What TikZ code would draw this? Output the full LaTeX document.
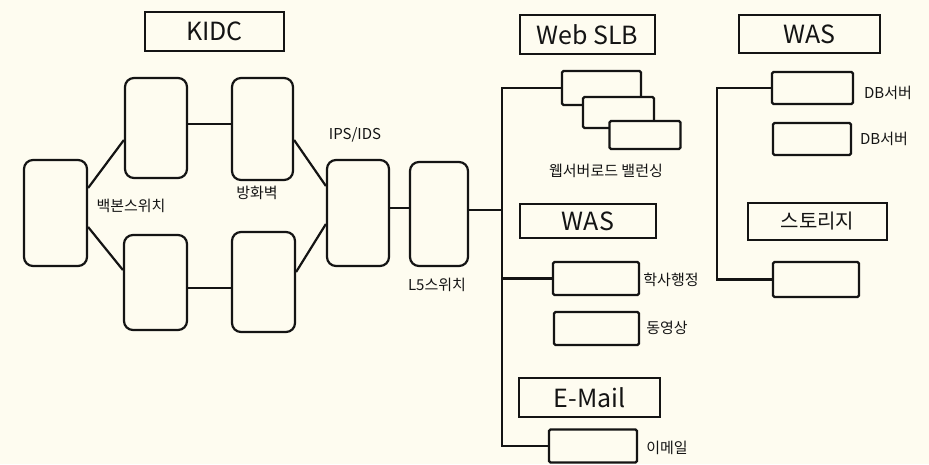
\documentclass[tikz,border=0pt]{standalone}
\usepackage{fontspec}
\setmainfont{Noto Sans CJK KR}
\definecolor{paper}{RGB}{254,252,240}
\definecolor{ink}{RGB}{20,20,20}
\begin{document}
\begin{tikzpicture}[x=1pt,y=-1pt,
  line width=2.2pt, draw=ink,
  dev/.style={draw=ink,fill=paper,rounded corners=9pt,inner sep=0pt},
  srv/.style={draw=ink,fill=paper,rounded corners=1.5pt,inner sep=0pt},
  title/.style={draw=ink,fill=paper,inner sep=0pt,font=\fontsize{25}{27}\selectfont,text=ink},
  lbl/.style={inner sep=0pt,font=\fontsize{15}{17}\selectfont,text=ink},
  conn/.style={draw=ink,line width=2.2pt}]
\fill[paper] (0,0) rectangle (929,464);
\useasboundingbox (0,0) rectangle (929,464);

% titles
\node[title,minimum width=139pt,minimum height=39pt] (kidc) at (214.5,31.5) {KIDC};
\node[title,minimum width=135pt,minimum height=39pt] (webslb) at (587.5,34.5) {Web SLB};
\node[title,minimum width=141pt,minimum height=38pt] (was1) at (809.5,34) {WAS};
\node[title,minimum width=136pt,minimum height=34pt] (was2) at (588,221) {WAS};
\node[title,minimum width=141pt,minimum height=39pt] (email) at (589.5,397.5) {E-Mail};
\node[title,minimum width=139pt,minimum height=37pt,font=\fontsize{20}{22}\selectfont] (stotitle) at (817.5,221.5) {스토리지};

% network devices
\node[dev,minimum width=63pt,minimum height=106pt] (bb) at (55.5,213) {};
\node[dev,minimum width=62pt,minimum height=100pt] (tl) at (156,128) {};
\node[dev,minimum width=61pt,minimum height=102pt] (tr) at (262.5,129) {};
\node[dev,minimum width=63pt,minimum height=95pt] (bl) at (155.5,282.5) {};
\node[dev,minimum width=63pt,minimum height=100pt] (br) at (263.5,282) {};
\node[dev,minimum width=62pt,minimum height=106pt] (ips) at (358,213) {};
\node[dev,minimum width=58pt,minimum height=104pt] (l5) at (439,214) {};

% servers
\node[srv,minimum width=79pt,minimum height=34pt] (s1) at (601.5,88) {};
\node[srv,minimum width=71pt,minimum height=31pt] (s2) at (618.5,112.5) {};
\node[srv,minimum width=71pt,minimum height=28pt] (s3) at (645,135) {};
\node[srv,minimum width=86pt,minimum height=33pt] (hak) at (596,278.5) {};
\node[srv,minimum width=85pt,minimum height=33pt] (dong) at (596.5,328.5) {};
\node[srv,minimum width=88pt,minimum height=33pt] (imail) at (593,446) {};
\node[srv,minimum width=81pt,minimum height=32pt] (db1) at (812.5,88) {};
\node[srv,minimum width=78pt,minimum height=32pt] (db2) at (812,139) {};
\node[srv,minimum width=86pt,minimum height=35pt] (sto) at (816,279.5) {};

% labels
\node[lbl] (lbb) at (131,206) {백본스위치};
\node[lbl] (lfw) at (257,193) {방화벽};
\node[lbl] (lips) at (355,135) {IPS/IDS};
\node[lbl] (ll5) at (437,285) {L5스위치};
\node[lbl] (lslb) at (606,171) {웹서버로드 밸런싱};
\node[lbl] (lhak) at (671,280) {학사행정};
\node[lbl] (ldong) at (667,328) {동영상};
\node[lbl] (limail) at (667,448) {이메일};
\node[lbl] (ldb1) at (888,93) {DB서버};
\node[lbl] (ldb2) at (884,139) {DB서버};

% trunk positions
\coordinate (tx) at (502,0);
\coordinate (rx) at (717,0);

% connectors
\draw[conn] ([yshift=25pt]bb.east) -- ([yshift=-12pt]tl.west);
\draw[conn] ([yshift=-14pt]bb.east) -- ([yshift=12.5pt]bl.west);
\draw[conn] ([yshift=4pt]tl.east) -- ([yshift=4pt]tl.east -| tr.west);
\draw[conn] ([yshift=-5.5pt]bl.east) -- ([yshift=-5.5pt]bl.east -| br.west);
\draw[conn] ([yshift=-11pt]tr.east) -- ([yshift=27pt]ips.west);
\draw[conn] ([yshift=10pt]br.east) -- ([yshift=-11pt]ips.west);
\draw[conn] ([yshift=5pt]ips.east) -- ([yshift=5pt]ips.east -| l5.west);
\draw[conn] ([yshift=4pt]l5.east) -- ([yshift=4pt]l5.east -| tx);
\draw[conn] (s1.west) -- (s1.west -| tx) -- (imail.west -| tx) -- (imail.west);
\draw[conn] (hak.west) -- (hak.west -| tx);
\draw[conn] (db1.west) -- (db1.west -| rx) -- (sto.west -| rx) -- (sto.west);
\end{tikzpicture}
\end{document}
